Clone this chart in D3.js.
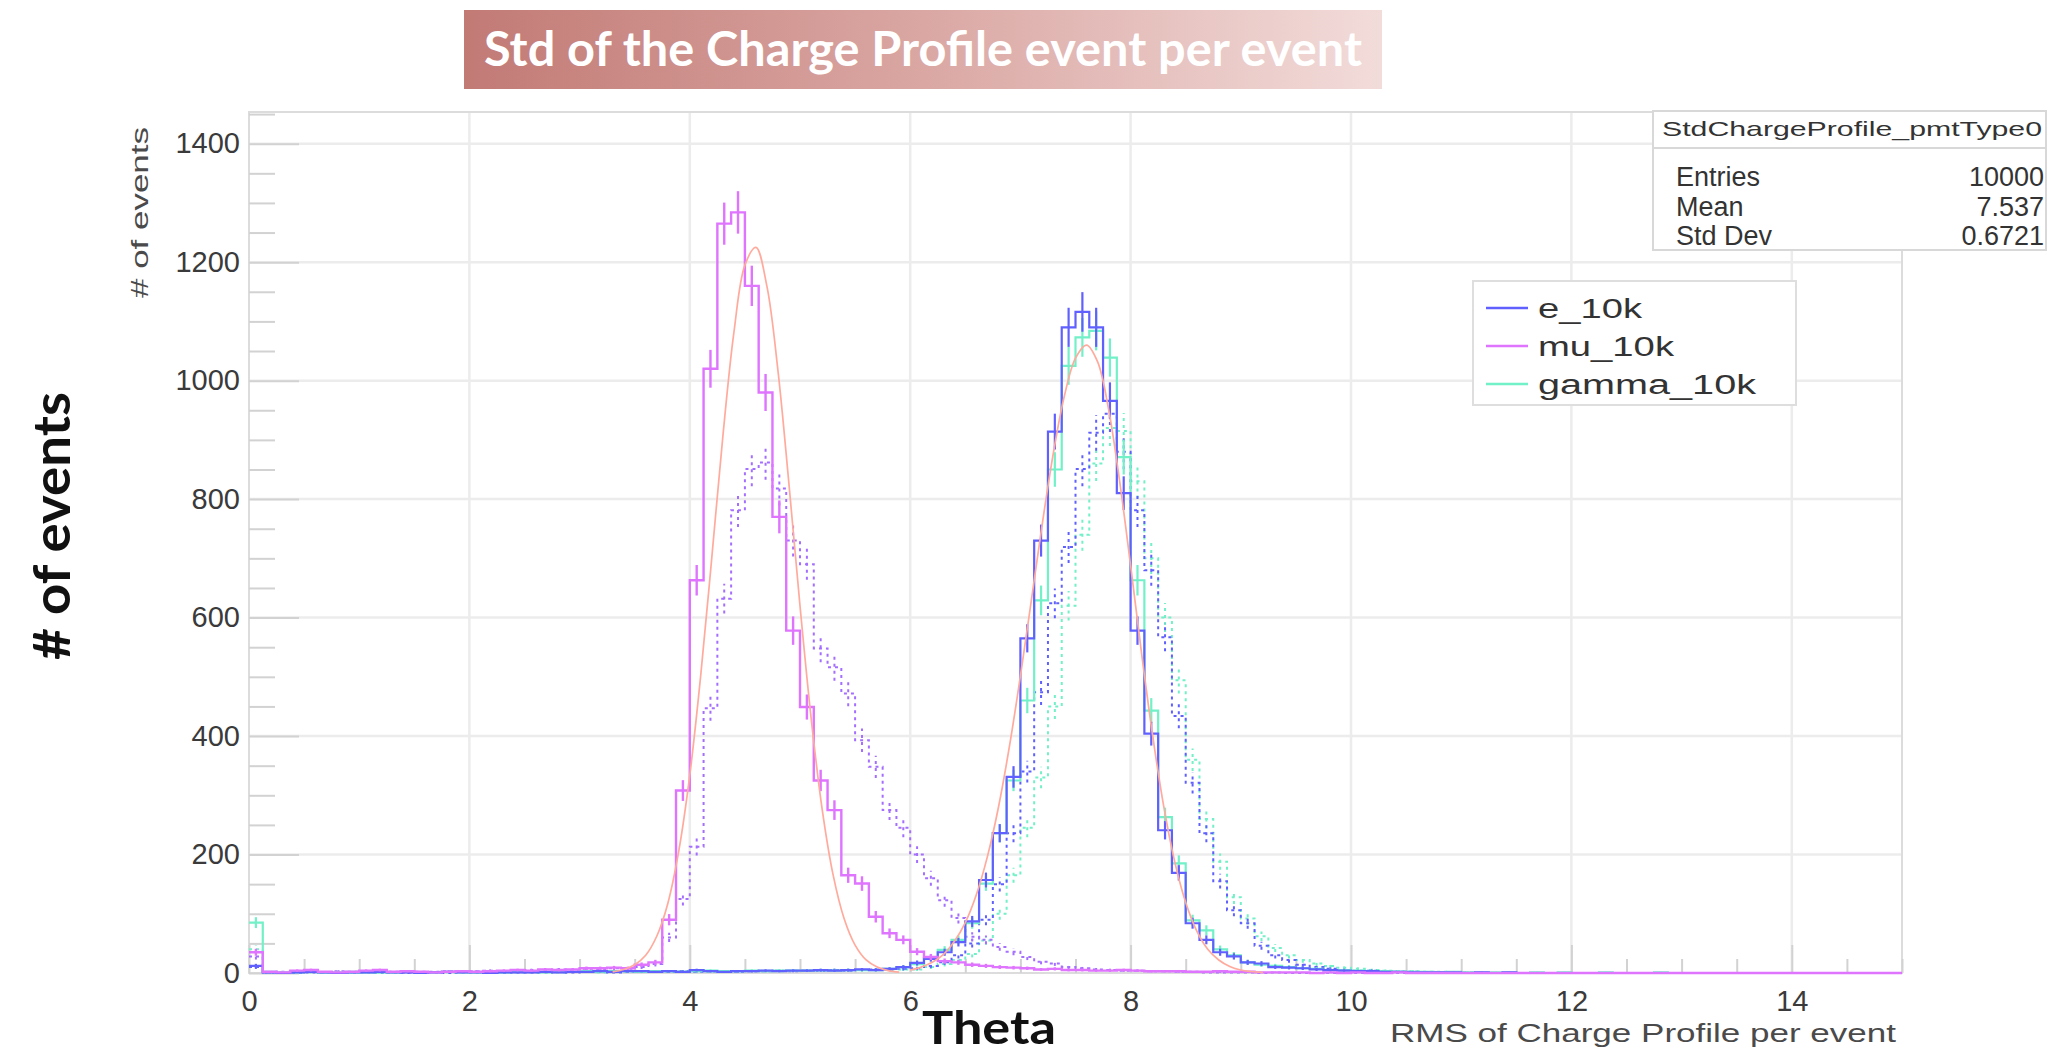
<!DOCTYPE html>
<html>
<head>
<meta charset="utf-8">
<script src="https://cdn.jsdelivr.net/npm/d3@7"></script>
<style>
  html, body { margin: 0; padding: 0; background: #ffffff; }
  svg { display: block; }
</style>
</head>
<body>
<svg id="chart" width="2048" height="1057"></svg>
<script>
// ---- Binning: 120 bins of width 0.125 over [0, 15] ----
const xMin = 0;
const xMax = 15;
const binWidth = 0.125;

// ---- Bin contents (counts per bin, bin i covers [i*0.125, (i+1)*0.125]) ----
const muSolid = [
  35,2,1,4,5,2,1,2,4,5,
  2,3,2,1,2,3,2,3,4,5,
  4,6,5,6,8,8,9,8,14,18,
  90,308,663,1020,1265,1284,1160,980,770,578,
  449,325,275,165,151,95,67,56,36,27,
  20,18,14,12,10,9,8,6,7,5,
  5,4,4,5,4,3,3,3,2,2,
  3,2,2,1,1,1,1,0,1,0,
  1,0,0,1,0,0,0,0,0,0,
  0,0,0,0,0,0,0,0,0,0,
  0,0,0,0,0,0,0,0,0,0,
  0,0,0,0,0,0,0,0,0,0
];
const muDashed = [
  28,1,2,3,2,1,3,2,2,3,
  2,1,2,2,3,2,3,4,3,4,
  5,4,6,5,7,6,8,7,10,15,
  60,125,213,447,632,781,851,862,818,730,
  690,548,516,472,393,348,275,245,200,160,
  123,93,61,56,44,36,27,19,16,10,
  8,6,5,4,4,3,3,2,2,1,
  1,1,1,0,1,0,0,0,0,0,
  0,0,0,0,0,0,0,0,0,0,
  0,0,0,0,0,0,0,0,0,0,
  0,0,0,0,0,0,0,0,0,0,
  0,0,0,0,0,0,0,0,0,0
];
const eSolid = [
  12,1,0,1,2,1,0,1,1,2,
  1,1,0,1,2,1,1,0,1,1,
  1,2,1,2,2,3,2,3,3,2,
  3,2,5,3,2,3,3,4,3,4,
  4,5,4,5,6,5,7,10,17,24,
  35,52,87,157,236,331,565,730,914,1090,
  1116,1090,966,810,578,404,241,169,84,56,
  35,28,18,16,10,9,8,6,5,4,
  3,3,2,2,1,1,1,1,0,1,
  0,1,0,0,0,0,0,0,0,0,
  0,0,0,0,0,0,0,0,0,0,
  0,0,0,0,0,0,0,0,0,0
];
const eDashed = [
  10,1,1,0,1,1,0,1,1,0,
  1,0,1,1,0,1,1,1,0,1,
  1,1,2,1,2,2,1,2,3,2,
  2,3,2,3,3,2,3,3,4,3,
  4,4,5,4,5,6,6,7,8,12,
  18,30,50,90,150,236,340,474,624,719,
  851,912,944,880,781,680,567,434,321,236,
  155,106,84,46,30,22,14,10,7,5,
  4,4,3,2,2,1,1,1,1,0,
  0,0,0,0,0,0,0,0,0,0,
  0,0,0,0,0,0,0,0,0,0,
  0,0,0,0,0,0,0,0,0,0
];
const gammaSolid = [
  85,2,1,1,2,1,1,2,1,1,
  1,2,1,1,2,1,1,2,1,2,
  2,1,2,2,3,2,3,3,2,3,
  3,2,3,4,3,3,4,3,4,4,
  4,5,4,5,5,5,7,10,15,25,
  39,56,84,151,236,325,460,629,850,1025,
  1073,1084,1039,871,663,443,263,185,89,72,
  40,30,18,14,12,10,8,7,5,5,
  4,3,3,2,2,2,1,2,1,1,
  1,1,0,1,0,1,0,0,1,0,
  0,0,1,0,0,0,0,0,0,0,
  0,0,0,0,0,0,0,0,0,0
];
const gammaDashed = [
  40,1,1,2,1,1,1,0,1,1,
  1,1,0,1,1,1,2,1,1,1,
  1,2,1,2,2,1,2,2,3,2,
  2,3,3,2,3,3,3,4,3,4,
  4,4,5,5,5,5,6,6,6,10,
  15,22,32,55,100,165,245,330,450,620,
  740,860,920,915,830,700,600,494,360,260,
  188,128,92,62,42,30,22,16,12,9,
  7,5,4,3,3,2,2,1,1,1,
  0,1,0,0,0,0,0,0,0,0,
  0,0,0,0,0,0,0,0,0,0,
  0,0,0,0,0,0,0,0,0,0
];

// ---- Fitted curves, sampled every 0.1 ----
const muFitX = [3.3,3.4,3.5,3.6,3.7,3.8,3.9,4.0,4.1,4.2,4.3,4.4,4.5,4.6,4.7,4.8,4.9,5.0,5.1,5.2,5.3,5.4,5.5,5.6,5.7,5.8,5.9];
const muFitY = [2,6,14,30,62,117,206,334,504,702,906,1081,1195,1225,1159,1017,825,620,432,278,166,92,47,22,10,4,1.5];
const eFitX = [6.0,6.1,6.2,6.3,6.4,6.5,6.6,6.7,6.8,6.9,7.0,7.1,7.2,7.3,7.4,7.5,7.6,7.7,7.8,7.9,8.0,8.1,8.2,8.3,8.4,8.5,8.6,8.7,8.8,8.9,9.0,9.1,9.2];
const eFitY = [5,10,18,31,53,85,132,196,279,382,501,630,760,879,975,1038,1060,1032,952,831,688,539,401,282,188,119,71,40,22,11,5,2.5,1];

// ---- Axis ticks ----
const yMajorTicks = [0,200,400,600,800,1000,1200,1400];
const yMinorTicks = d3.range(50, 1451, 50).filter(v => v % 200 !== 0);
const xMajorTicks = [0,2,4,6,8,10,12,14];
const xMinorTicks = d3.range(0.5, 15.01, 0.5).filter(v => v % 2 !== 0);

// ---- Texts ----
const titleText = "Std of the Charge Profile event per event";
const xTitleSmall = "RMS of Charge Profile per event";
const yTitleSmall = "# of events";
const yTitleBig = "# of events";
const xTitleBig = "Theta";
const legendLabels = ["e_10k", "mu_10k", "gamma_10k"];
const statsName = "StdChargeProfile_pmtType0";
const statsKeys = ["Entries", "Mean", "Std Dev"];
const statsValues = ["10000", "7.537", "0.6721"];

// ---- Layout & style ----
const frame = { left: 249, right: 1902, top: 112, bottom: 973 };
const yMax = 1453.5;
const colors = {
  e: "#6060ff",
  mu: "#df74ff",
  muDash: "#a46eff",
  gamma: "#72f0c8",
  fit: "#ffaa9c"
};
const rootFont = "'Liberation Sans', Arial, Helvetica, sans-serif";
const slideFont = "Lato, 'Open Sans', sans-serif";

const svg = d3.select("#chart");
const x = d3.scaleLinear().domain([xMin, xMax]).range([frame.left, frame.right]);
const y = d3.scaleLinear().domain([0, yMax]).range([frame.bottom, frame.top]);

const defs = svg.append("defs");
defs.append("clipPath").attr("id", "plotClip")
  .append("rect")
  .attr("x", frame.left).attr("y", frame.top - 2)
  .attr("width", frame.right - frame.left).attr("height", frame.bottom - frame.top + 4);

// ---- Banner title ----
const grad = defs.append("linearGradient").attr("id", "bannerGrad")
  .attr("x1", "0").attr("x2", "1").attr("y1", "0").attr("y2", "0");
grad.append("stop").attr("offset", "0").attr("stop-color", "#c27a75");
grad.append("stop").attr("offset", "0.5").attr("stop-color", "#daa7a3");
grad.append("stop").attr("offset", "1").attr("stop-color", "#f2dcda");
svg.append("rect")
  .attr("x", 464).attr("y", 10).attr("width", 918).attr("height", 79)
  .attr("fill", "url(#bannerGrad)");
svg.append("text")
  .attr("x", 484).attr("y", 66)
  .attr("fill", "#ffffff")
  .attr("font-family", slideFont).attr("font-weight", "bold").attr("font-size", 47)
  .attr("textLength", 878).attr("lengthAdjust", "spacingAndGlyphs")
  .text(titleText);

// ---- Grid ----
const grid = svg.append("g").attr("stroke", "#ececec").attr("stroke-width", 2.5);
grid.selectAll("line.v").data(xMajorTicks.filter(v => v > xMin)).join("line")
  .attr("x1", d => x(d)).attr("x2", d => x(d))
  .attr("y1", frame.top).attr("y2", frame.bottom);
grid.selectAll("line.h").data(yMajorTicks.filter(v => v > 0)).join("line")
  .attr("x1", frame.left).attr("x2", frame.right)
  .attr("y1", d => y(d)).attr("y2", d => y(d));

// ---- Frame ----
svg.append("rect")
  .attr("x", frame.left).attr("y", frame.top)
  .attr("width", frame.right - frame.left).attr("height", frame.bottom - frame.top)
  .attr("fill", "none").attr("stroke", "#dcdcdc").attr("stroke-width", 2);

// ---- Axes (ticks point into the frame) ----
function styleAxis(g) {
  g.select(".domain").remove();
  g.selectAll(".tick line").attr("stroke", "#d2d2d2").attr("stroke-width", 2);
  g.selectAll(".tick text")
    .attr("font-family", rootFont).attr("font-size", 29).attr("fill", "#3a3a3a");
}
svg.append("g").attr("transform", `translate(${frame.left},0)`)
  .call(d3.axisLeft(y).tickValues(yMinorTicks).tickSizeInner(-26).tickSizeOuter(0).tickFormat(""))
  .call(styleAxis);
svg.append("g").attr("transform", `translate(${frame.left},0)`)
  .call(d3.axisLeft(y).tickValues(yMajorTicks).tickSizeInner(-50).tickSizeOuter(0).tickPadding(9).tickFormat(d3.format("d")))
  .call(styleAxis);
svg.append("g").attr("transform", `translate(0,${frame.bottom})`)
  .call(d3.axisBottom(x).tickValues(xMinorTicks).tickSizeInner(-14).tickSizeOuter(0).tickFormat(""))
  .call(styleAxis);
svg.append("g").attr("transform", `translate(0,${frame.bottom})`)
  .call(d3.axisBottom(x).tickValues(xMajorTicks).tickSizeInner(-28).tickSizeOuter(0).tickPadding(17).tickFormat(d3.format("d")))
  .call(styleAxis);

// ---- Axis titles ----
svg.append("text")
  .attr("x", 1390).attr("y", 1042)
  .attr("font-family", rootFont).attr("font-size", 26).attr("fill", "#4a4a4a")
  .attr("textLength", 506).attr("lengthAdjust", "spacingAndGlyphs")
  .text(xTitleSmall);
svg.append("text")
  .attr("transform", "translate(148,127) rotate(-90)")
  .attr("text-anchor", "end")
  .attr("font-family", rootFont).attr("font-size", 24).attr("fill", "#4a4a4a")
  .attr("textLength", 171).attr("lengthAdjust", "spacingAndGlyphs")
  .text(yTitleSmall);
svg.append("text")
  .attr("transform", "translate(70,660) rotate(-90)")
  .attr("font-family", slideFont).attr("font-weight", "bold").attr("font-size", 52).attr("fill", "#111")
  .attr("textLength", 268).attr("lengthAdjust", "spacingAndGlyphs")
  .text(yTitleBig);
svg.append("text")
  .attr("x", 922).attr("y", 1044)
  .attr("font-family", slideFont).attr("font-weight", "bold").attr("font-size", 45).attr("fill", "#111")
  .attr("textLength", 134).attr("lengthAdjust", "spacingAndGlyphs")
  .text(xTitleBig);

// ---- Histograms ----
const plot = svg.append("g").attr("clip-path", "url(#plotClip)");
const stepLine = d3.line().x(d => x(d[0])).y(d => y(d[1])).curve(d3.curveStepAfter);

function drawHist(counts, color, dashed, width) {
  const pts = counts.map((c, i) => [xMin + i * binWidth, c]);
  pts.push([xMin + counts.length * binWidth, counts[counts.length - 1]]);
  const g = plot.append("g")
    .attr("stroke", color).attr("stroke-width", width).attr("fill", "none")
    .attr("stroke-dasharray", dashed ? "3 4" : null);
  g.append("path").attr("d", stepLine(pts));
  // statistical error bars at bin centres
  g.selectAll("line").data(counts.map((c, i) => ({ c, i })).filter(d => d.c > 0)).join("line")
    .attr("x1", d => x(xMin + (d.i + 0.5) * binWidth))
    .attr("x2", d => x(xMin + (d.i + 0.5) * binWidth))
    .attr("y1", d => y(Math.max(0, d.c - Math.sqrt(d.c))))
    .attr("y2", d => y(d.c + Math.sqrt(d.c)));
}

drawHist(gammaDashed, colors.gamma, true, 2);
drawHist(eDashed, colors.e, true, 2);
drawHist(muDashed, colors.muDash, true, 2);
drawHist(gammaSolid, colors.gamma, false, 2.2);
drawHist(eSolid, colors.e, false, 2.2);
drawHist(muSolid, colors.mu, false, 2.4);

// ---- Fit curves ----
const fitLine = d3.line().x(d => x(d[0])).y(d => y(d[1])).curve(d3.curveCatmullRom);
[[muFitX, muFitY], [eFitX, eFitY]].forEach(([fx, fy]) => {
  plot.append("path")
    .attr("d", fitLine(fx.map((v, i) => [v, fy[i]])))
    .attr("fill", "none").attr("stroke", colors.fit).attr("stroke-width", 1.7);
});

// ---- Legend ----
const legend = svg.append("g");
legend.append("rect")
  .attr("x", 1473).attr("y", 281).attr("width", 323).attr("height", 124)
  .attr("fill", "#ffffff").attr("stroke", "#dedede").attr("stroke-width", 2);
const legendColors = [colors.e, colors.mu, colors.gamma];
const legendWidths = [104, 136, 218];
const legendCenter = d3.scaleLinear().domain([0, 1]).range([308, 346]);
legendLabels.forEach((lab, i) => {
  const yc = legendCenter(i);
  legend.append("line")
    .attr("x1", 1486).attr("x2", 1528).attr("y1", yc).attr("y2", yc)
    .attr("stroke", legendColors[i]).attr("stroke-width", 2.5);
  legend.append("text")
    .attr("x", 1538).attr("y", yc + 10)
    .attr("font-family", rootFont).attr("font-size", 27).attr("fill", "#333")
    .attr("textLength", legendWidths[i]).attr("lengthAdjust", "spacingAndGlyphs")
    .text(lab);
});

// ---- Statistics box ----
const stats = svg.append("g");
stats.append("rect")
  .attr("x", 1653).attr("y", 111).attr("width", 393).attr("height", 139)
  .attr("fill", "#ffffff").attr("stroke", "#d8d8d8").attr("stroke-width", 2);
stats.append("line")
  .attr("x1", 1653).attr("x2", 2046).attr("y1", 148).attr("y2", 148)
  .attr("stroke", "#d8d8d8").attr("stroke-width", 2);
stats.append("text")
  .attr("x", 1662).attr("y", 136)
  .attr("font-family", rootFont).attr("font-size", 21).attr("fill", "#333")
  .attr("textLength", 380).attr("lengthAdjust", "spacingAndGlyphs")
  .text(statsName);
statsKeys.forEach((k, i) => {
  const yb = 186 + i * 29.5;
  stats.append("text")
    .attr("x", 1676).attr("y", yb)
    .attr("font-family", rootFont).attr("font-size", 27).attr("fill", "#333")
    .text(k);
  stats.append("text")
    .attr("x", 2044).attr("y", yb).attr("text-anchor", "end")
    .attr("font-family", rootFont).attr("font-size", 27).attr("fill", "#333")
    .text(statsValues[i]);
});
</script>
</body>
</html>
